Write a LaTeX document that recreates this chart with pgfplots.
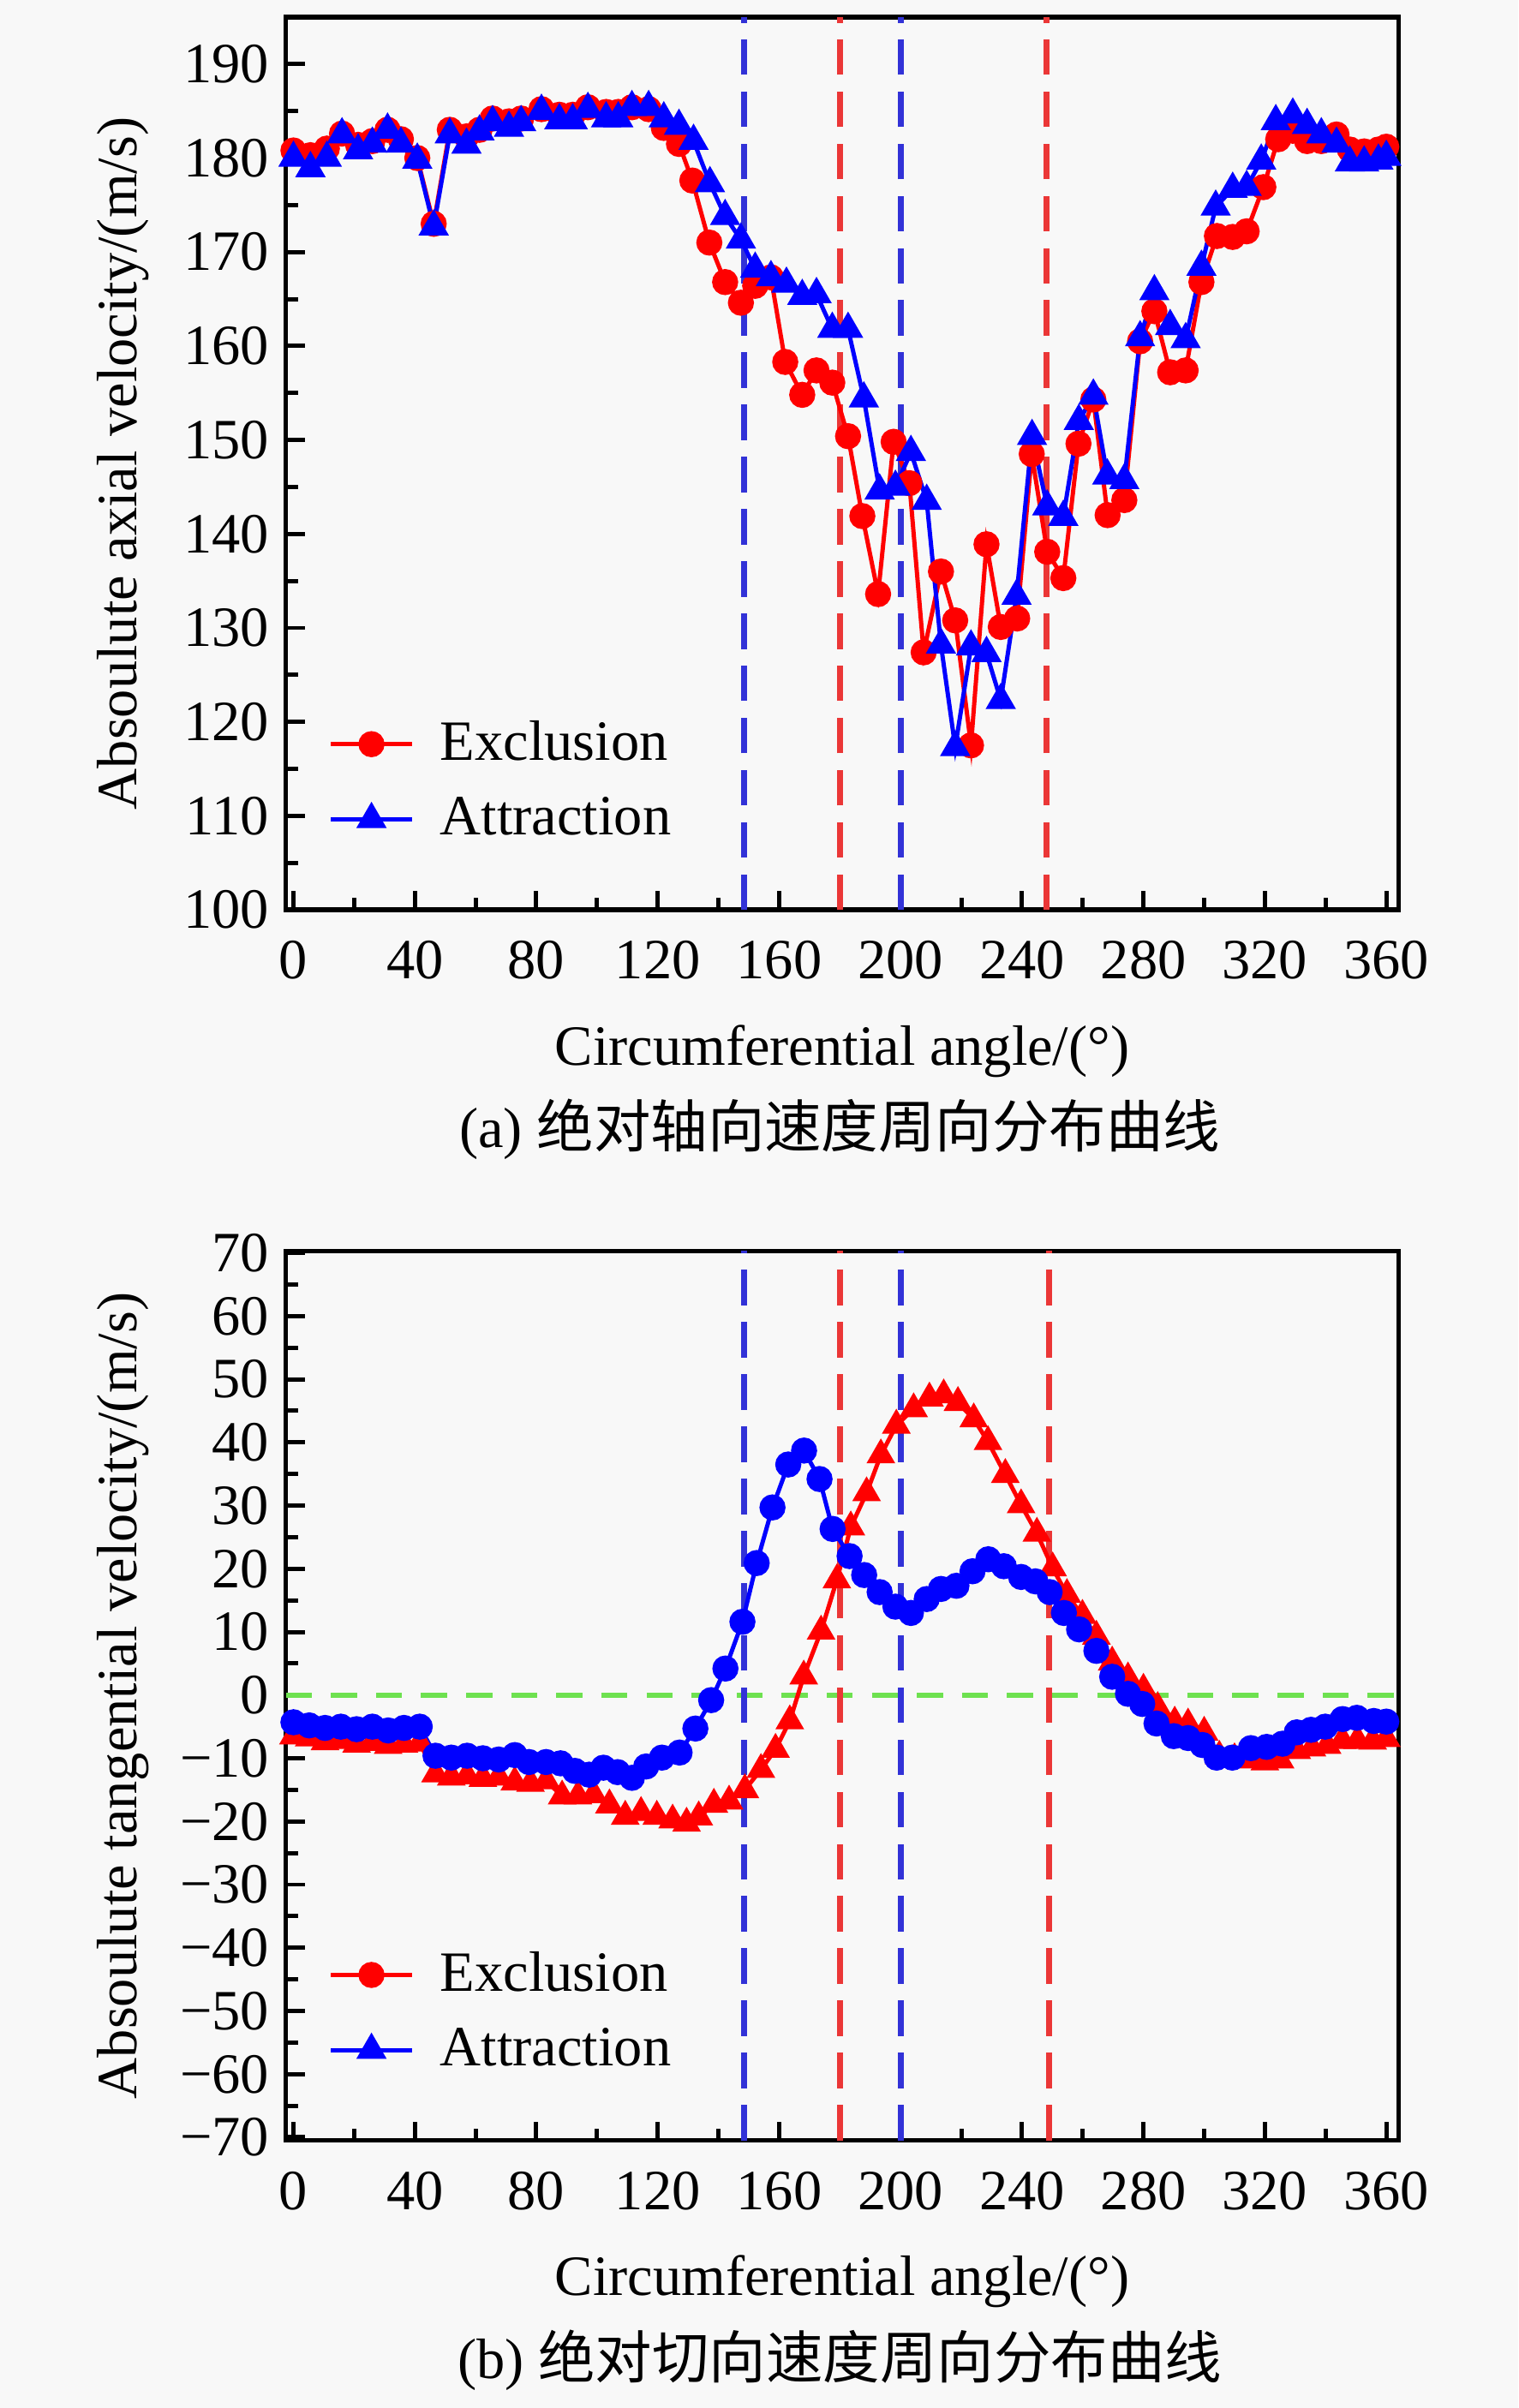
\documentclass[border=0pt]{standalone}
\usepackage{fontspec}
\setmainfont{Liberation Serif}
\newfontfamily\cjk{Noto Sans CJK SC}
\usepackage{pgfplots}
\pgfplotsset{compat=1.18}
\definecolor{bgc}{RGB}{248,248,248}
\definecolor{dblue}{RGB}{50,50,215}
\definecolor{dred}{RGB}{235,55,55}
\definecolor{dgreen}{RGB}{110,225,80}
\newcommand{\fs}{\fontsize{12}{14}\selectfont}
\pgfplotsset{
  myaxis/.style={
    scale only axis, width=234.5pt, anchor=south west,
    xmin=-2.5, xmax=364,
    xtick={0,40,...,360}, minor x tick num=1, minor y tick num=1,
    tick pos=left, tick align=inside,
    major tick length=4pt, minor tick length=2.5pt,
    every tick/.style={black, line width=0.9pt},
    axis line style={line width=1pt},
    /pgf/number format/assume math mode=true,
    tick label style={font=\fs},
    xticklabel style={yshift=-3pt},
    label style={font=\fs},
    xlabel={Circumferential angle/(°)},
    xlabel style={at={(axis description cs:0.5,0)}, anchor=center, yshift=-29.8pt},
    ylabel style={at={(axis description cs:0,0.5)}, anchor=center, rotate=0, yshift=34.3pt},
    legend style={at={(axis description cs:0.025,0.054)}, anchor=south west, draw=none, fill=none, font=\fs, row sep=2.2pt, column sep=3.5pt},
    legend cell align=left,
  },
  vl/.style={line width=1.2pt, dash pattern=on 7.5pt off 3.5pt, forget plot},
  exc/.style={red, line width=0.9pt, mark=*, mark size=2.3pt, mark options={solid}},
  att/.style={blue, line width=0.9pt, mark=triangle*, mark size=2.8pt, mark options={solid}},
  excB/.style={red, line width=0.9pt, mark=triangle*, mark size=2.6pt, mark options={solid}},
  attB/.style={blue, line width=0.9pt, mark=*, mark size=2.3pt, mark options={solid}},
}
\begin{document}
\begin{tikzpicture}[font=\fs]
\useasboundingbox (0,0) rectangle (320pt,507.6pt);
\fill[bgc] (0,0) rectangle (320pt,507.6pt);
% ---------------- (a) ----------------
\begin{axis}[myaxis, at={(60.25pt,315.8pt)}, height=188.2pt,
  ymin=100, ymax=195, ytick={100,110,...,190},
  ylabel={Absoulute axial velocity/(m/s)}]
\addplot[dblue, vl] coordinates {(148.5,100) (148.5,195)};
\addplot[dred, vl] coordinates {(180,100) (180,195)};
\addplot[dblue, vl] coordinates {(200,100) (200,195)};
\addplot[dred, vl] coordinates {(248,100) (248,195)};
\addplot[exc, forget plot] coordinates {
(0,180.8) (5.6,180.3) (11,181.0) (16,182.6) (21.3,181.4) (26,181.8) (31,183.0) (35.4,182.0) (40.8,180.0) (46.2,173.0)
(51.5,183.0) (57,182.3) (61.3,183.0) (65.6,184.2) (71,183.9) (75,184.2) (81.7,185.2) (87.6,184.6) (92,184.6) (97,185.4)
(103,184.9) (107,184.9) (111.5,185.4) (117,185.2) (122,183.2) (127,181.5) (131.4,177.6) (137,171.0) (142.2,166.8) (147.4,164.6)
(152.1,166.4) (157.3,167.3) (162,158.3) (167.6,154.8) (172.3,157.4) (177.5,156.1) (182.7,150.4) (187.4,141.9) (192.6,133.6) (197.7,149.8)
(202.9,145.4) (207.6,127.4) (213.3,136.0) (218,130.8) (223.2,117.5) (228.3,138.9) (233,130.1) (238.4,131.0) (243.2,148.5) (248.3,138.1)
(253.6,135.3) (258.6,149.6) (263.5,154.3) (268.2,142.0) (273.7,143.6) (278.9,160.5) (283.6,163.7) (288.8,157.2) (293.9,157.4) (299.1,166.8)
(304.2,171.7) (309.4,171.6) (314,172.2) (319.5,176.9) (324.4,182.0) (329.2,182.9) (333.9,181.8) (338.6,181.8) (343.6,182.5) (348,180.9)
(352.7,180.7) (357.4,180.9) (360,181.2)};
\addplot[att, forget plot] coordinates {
(0,180.0) (5.6,178.9) (11,180.0) (16,182.5) (21.3,180.8) (26,181.5) (31,183.0) (35.4,181.5) (40.8,179.8) (46.2,172.7)
(51.5,182.5) (57,181.4) (61.3,182.8) (65.6,183.8) (71,183.2) (75,183.8) (81.7,185.0) (87.6,184.0) (92,184.0) (97,185.2)
(103,184.2) (107,184.2) (111.5,185.4) (117,185.4) (122,184.2) (127,183.4) (131.8,181.8) (137.2,177.3) (142.2,173.8) (147.4,171.3)
(152.1,168.2) (157.3,167.3) (162.4,166.6) (167.6,165.3) (172.3,165.5) (177.5,161.8) (182.7,161.8) (187.9,154.4) (193.1,144.6) (198.3,145.0)
(203.4,148.7) (208.6,143.5) (213.3,128.2) (218,117.3) (223.2,128.0) (228.3,127.3) (233,122.3) (238.2,133.4) (243.3,150.4) (248.3,142.9)
(253.6,141.8) (258.7,152.0) (263.5,154.7) (268.1,146.2) (273.7,145.7) (278.9,160.9) (283.6,165.8) (288.8,162.1) (293.9,160.7) (299.1,168.4)
(303.8,174.8) (309.4,176.7) (314,176.9) (318.8,179.7) (323.6,183.9) (329.2,184.6) (333.9,183.5) (338.6,182.5) (343.6,181.5) (348,179.5)
(352.7,179.5) (357.4,179.7) (360,180.1)};
\addlegendimage{exc}
\addlegendentry{Exclusion}
\addlegendimage{att}
\addlegendentry{Attraction}
\end{axis}
\node at (177pt,269.5pt) {(a) {\cjk 绝对轴向速度周向分布曲线}};
% ---------------- (b) ----------------
\begin{axis}[myaxis, at={(60.25pt,56.4pt)}, height=187.5pt,
  ymin=-70.5, ymax=70.3, ytick={-70,-60,...,70},
  yticklabels={−70,−60,−50,−40,−30,−20,−10,0,10,20,30,40,50,60,70},
  ylabel={Absoulute tangential velocity/(m/s)}]
\addplot[dgreen, line width=1pt, dash pattern=on 5.5pt off 4pt, forget plot] coordinates {(-2.5,0) (364,0)};
\addplot[dblue, vl] coordinates {(148.5,-70.5) (148.5,70.3)};
\addplot[dred, vl] coordinates {(180,-70.5) (180,70.3)};
\addplot[dblue, vl] coordinates {(200,-70.5) (200,70.3)};
\addplot[dred, vl] coordinates {(249,-70.5) (249,70.3)};
\addplot[excB, forget plot] coordinates {
(0,-6.5) (5.2,-6.8) (10.4,-7.4) (15.6,-7.2) (20.8,-7.8) (26,-7.5) (31.2,-8.0) (36.4,-7.8) (41.6,-7.6) (46.8,-12.5)
(52,-13.0) (57.2,-12.8) (62.4,-13.2) (67.6,-13.0) (72.9,-13.8) (78.1,-14.0) (83.3,-13.6) (88.5,-16.0) (93.7,-16.0) (98.9,-15.8)
(104.1,-17.4) (109.3,-19.2) (114.5,-18.6) (119.7,-19.2) (124.9,-19.8) (129.5,-20.3) (133.5,-19.3) (138.5,-17.3) (143.5,-16.8) (148.7,-15.0)
(154,-11.8) (158.8,-8.6) (163.5,-4.1) (168.1,3.0) (173.8,10.1) (179,18.2) (183.6,26.6) (188.8,32.0) (193.5,38.0) (198.6,42.7)
(204.3,45.3) (209.5,47.0) (214.2,47.5) (218.9,46.3) (224.1,43.7) (228.8,40.1) (234.5,34.9) (239.7,30.1) (244.9,25.6) (250.1,20.1)
(254.8,15.9) (259.9,12.6) (264.5,9.3) (269.7,5.2) (274.9,2.7) (280,0.9) (284.7,-2.0) (290.3,-4.3) (294.7,-4.6) (300,-5.9)
(305,-9.7) (310,-10.1) (315,-10.3) (320,-10.6) (325,-10.3) (330.5,-8.8) (335.5,-8.4) (340.5,-8.0) (345.5,-7.2) (350.5,-7.2)
(355.5,-7.3) (360,-6.9)};
\addplot[attB, forget plot] coordinates {
(0,-4.3) (5.2,-4.8) (10.4,-5.2) (15.6,-5.0) (20.8,-5.4) (26,-5.0) (31.2,-5.6) (36.4,-5.2) (41.6,-5.0) (46.8,-9.6)
(52,-9.9) (57.2,-9.6) (62.4,-10.0) (67.6,-10.2) (72.9,-9.5) (77.6,-10.6) (83.2,-10.6) (88,-10.8) (92.7,-12.0) (97.4,-12.6)
(102.1,-11.5) (106.8,-12.2) (111.5,-13.1) (116.2,-11.3) (121.4,-9.9) (127.2,-9.1) (132.4,-5.3) (137.6,-0.8) (142.3,4.2) (147.9,11.6)
(152.6,20.9) (157.8,29.7) (163,36.5) (168.2,38.7) (173.3,34.2) (177.6,26.3) (183.2,22.0) (188,19.0) (193.1,16.3) (198.3,14.0)
(203.4,13.0) (208.6,15.2) (213.3,16.8) (218.4,17.3) (223.7,19.6) (228.9,21.5) (234,20.4) (239.7,18.7) (244.4,18.0) (249.1,16.3)
(253.8,13.0) (258.8,10.4) (264.5,7.0) (269.7,2.9) (274.9,0.2) (279.6,-1.4) (284.3,-4.5) (290,-6.5) (294.7,-6.8) (299.4,-7.9)
(304.1,-9.9) (309.3,-9.9) (315.4,-8.4) (320.6,-8.2) (325.8,-7.7) (330.5,-5.9) (335.2,-5.5) (339.9,-5.0) (345.6,-3.8) (350.3,-3.6)
(355.9,-4.1) (360,-4.2)};
\addlegendimage{exc}
\addlegendentry{Exclusion}
\addlegendimage{att}
\addlegendentry{Attraction}
\end{axis}
\node at (177pt,10pt) {(b) {\cjk 绝对切向速度周向分布曲线}};
\end{tikzpicture}
\end{document}
